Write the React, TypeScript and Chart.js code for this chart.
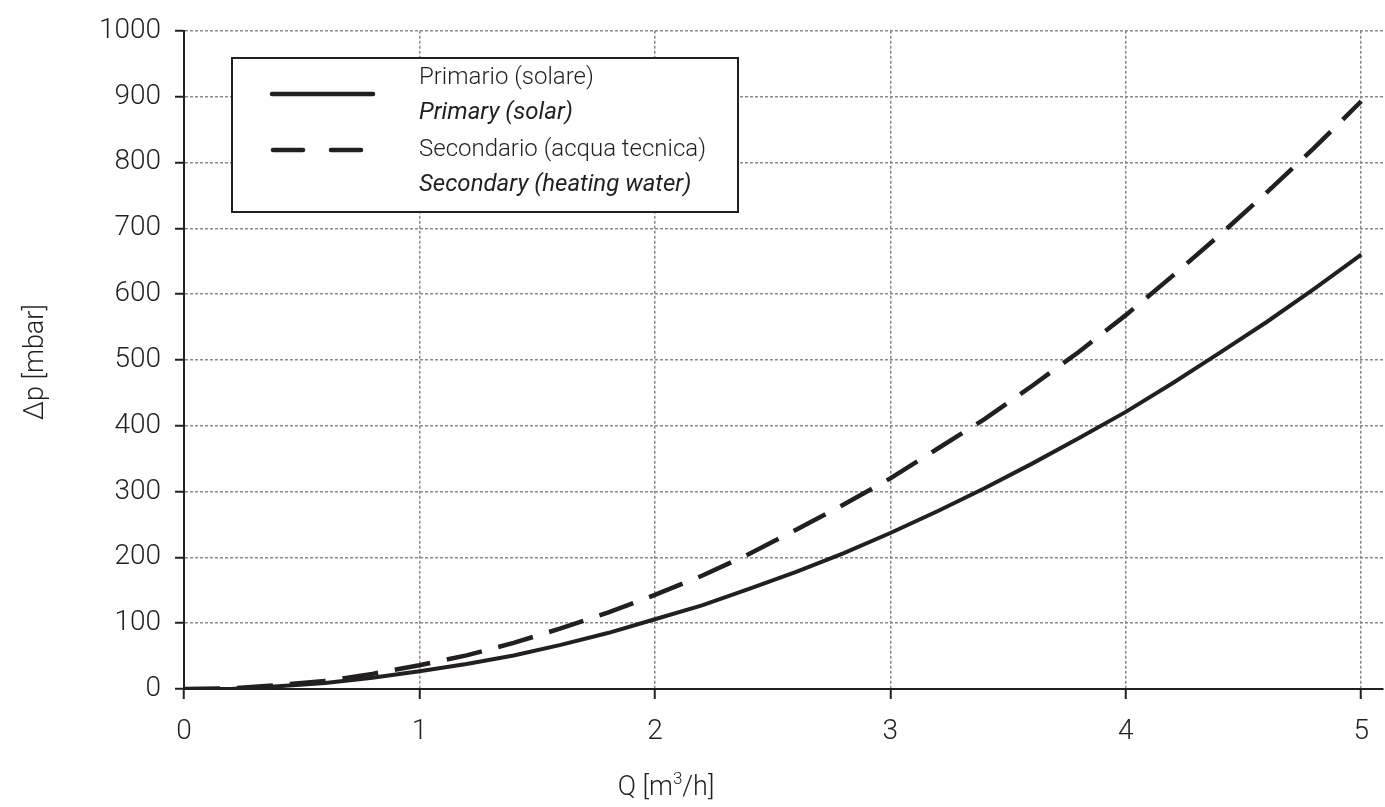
import React, { useEffect, useRef } from "react";
import { Chart, registerables } from "chart.js";

Chart.register(...registerables);

const flowQ = [0, 0.2, 0.4, 0.6, 0.8, 1, 1.2, 1.4, 1.6, 1.8, 2, 2.2, 2.4, 2.6, 2.8, 3, 3.2, 3.4, 3.6, 3.8, 4, 4.2, 4.4, 4.6, 4.8, 5];
const primaryDp = [0, 0, 4, 9, 17, 27, 38, 51, 67, 85, 106, 127, 152, 178, 206, 237, 270, 305, 342, 381, 421, 465, 511, 558, 608, 660];
const secondaryDp = [0, 1, 6, 12, 23, 36, 51, 70, 92, 116, 143, 172, 205, 242, 280, 320, 365, 410, 460, 512, 568, 628, 690, 755, 822, 893];
const xTicks = [0, 1, 2, 3, 4, 5];
const yTicks = [0, 100, 200, 300, 400, 500, 600, 700, 800, 900, 1000];
const legendLabels = ["Primario (solare)", "Primary (solar)", "Secondario (acqua tecnica)", "Secondary (heating water)"];
const xTitle = ["Q [m", "3", "/h]"];
const yTitle = "Δp [mbar]";

const FONT = "Roboto, 'DejaVu Sans', sans-serif";
const TEXT = "#231f20";

const overlay = {
  id: "overlay",
  afterDraw(chart: any) {
    const ctx = chart.ctx as CanvasRenderingContext2D;
    ctx.save();
    // legend box
    ctx.fillStyle = "#ffffff";
    ctx.fillRect(232, 58, 506, 154);
    ctx.strokeStyle = TEXT;
    ctx.lineWidth = 2;
    ctx.setLineDash([]);
    ctx.strokeRect(232, 58, 506, 154);
    ctx.lineCap = "round";
    ctx.lineWidth = 4.5;
    ctx.beginPath();
    ctx.moveTo(272, 94);
    ctx.lineTo(373, 94);
    ctx.stroke();
    ctx.setLineDash([30, 28]);
    ctx.beginPath();
    ctx.moveTo(273, 150);
    ctx.lineTo(362, 150);
    ctx.stroke();
    ctx.setLineDash([]);
    ctx.fillStyle = TEXT;
    ctx.textBaseline = "middle";
    ctx.textAlign = "left";
    const ys = [78, 113, 150, 185];
    legendLabels.forEach((t, i) => {
      ctx.font = (i % 2 === 1 ? "italic 400 " : "300 ") + "24px " + FONT;
      ctx.fillText(t, 419, ys[i]);
    });
    // y title
    ctx.save();
    ctx.translate(36, 362);
    ctx.rotate(-Math.PI / 2);
    ctx.textAlign = "center";
    ctx.font = "300 27px " + FONT;
    ctx.fillText(yTitle, 0, 0);
    ctx.restore();
    // x title with superscript
    ctx.textAlign = "left";
    ctx.textBaseline = "alphabetic";
    ctx.font = "300 27px " + FONT;
    const w0 = ctx.measureText(xTitle[0]).width;
    ctx.font = "300 17px " + FONT;
    const w1 = ctx.measureText(xTitle[1]).width;
    ctx.font = "300 27px " + FONT;
    const w2 = ctx.measureText(xTitle[2]).width;
    const total = w0 + w1 + w2;
    let x = 666 - total / 2;
    const base = 795;
    ctx.fillText(xTitle[0], x, base);
    x += w0;
    ctx.font = "300 17px " + FONT;
    ctx.fillText(xTitle[1], x, base - 11);
    x += w1;
    ctx.font = "300 27px " + FONT;
    ctx.fillText(xTitle[2], x, base);
    ctx.restore();
  },
};

export default function App() {
  const ref = useRef<HTMLCanvasElement>(null);
  useEffect(() => {
    if (!ref.current) return;
    const chart = new Chart(ref.current, {
      type: "line",
      data: {
        datasets: [
          {
            label: legendLabels[0],
            data: flowQ.map((q, i) => ({ x: q, y: primaryDp[i] })),
            borderColor: TEXT,
            borderWidth: 4,
            pointRadius: 0,
            tension: 0,
            fill: false,
          },
          {
            label: legendLabels[2],
            data: flowQ.map((q, i) => ({ x: q, y: secondaryDp[i] })),
            borderColor: TEXT,
            borderWidth: 4.5,
            borderDash: [36, 17],
            pointRadius: 0,
            tension: 0,
            fill: false,
          },
        ],
      },
      options: {
        animation: false,
        responsive: false,
        devicePixelRatio: 1,
        layout: { padding: { top: 27, right: 0, left: 0, bottom: 0 } },
        plugins: { legend: { display: false }, tooltip: { enabled: false } },
        scales: {
          x: {
            type: "linear",
            min: 0,
            max: 5.093,
            afterBuildTicks: (s: any) => {
              s.ticks = xTicks.map((v) => ({ value: v }));
            },
            afterFit: (s: any) => {
              s.height = 118;
            },
            border: { display: true, color: TEXT, width: 2, dash: [3, 2] },
            grid: {
              color: "#8a8a8a",
              lineWidth: 1.5,
              drawTicks: true,
              tickLength: 10,
              tickColor: TEXT,
              tickWidth: 2,
              tickBorderDash: [],
            },
            ticks: {
              color: TEXT,
              font: { family: FONT, size: 28, weight: "300" },
              padding: 16,
              maxRotation: 0,
              callback: (v: any) => String(v),
            },
          },
          y: {
            type: "linear",
            min: 0,
            max: 1000,
            afterBuildTicks: (s: any) => {
              s.ticks = yTicks.map((v) => ({ value: v }));
            },
            afterFit: (s: any) => {
              s.width = 184;
            },
            border: { display: true, color: TEXT, width: 2, dash: [3, 2] },
            grid: {
              color: "#8a8a8a",
              lineWidth: 1.5,
              drawTicks: true,
              tickLength: 9,
              tickColor: TEXT,
              tickWidth: 2,
              tickBorderDash: [],
            },
            ticks: {
              color: TEXT,
              font: { family: FONT, size: 28, weight: "300" },
              padding: 14,
              callback: (v: any) => String(v),
            },
          },
        },
      },
      plugins: [overlay],
    });
    return () => chart.destroy();
  }, []);
  return (
    <div style={{ position: "fixed", left: 0, top: 0, width: 1385, height: 807, background: "#fff" }}>
      <canvas ref={ref} width={1385} height={807} style={{ display: "block" }} />
    </div>
  );
}
